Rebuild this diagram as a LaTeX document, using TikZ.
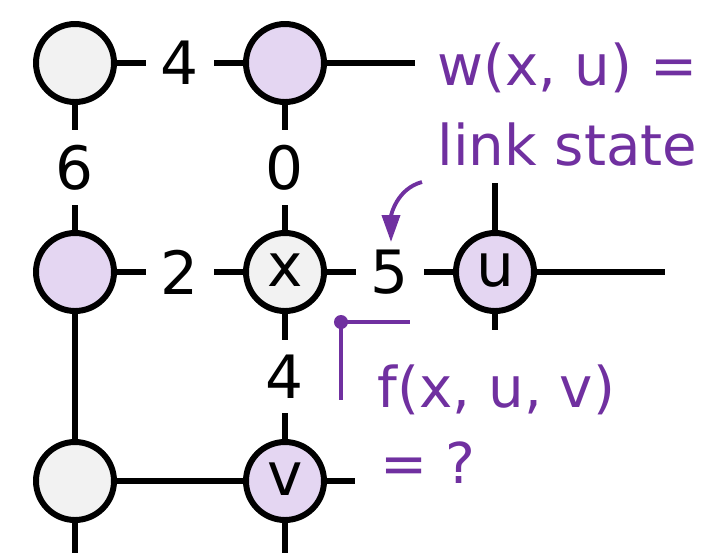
\documentclass[tikz,border=0pt]{standalone}
\usepackage{fontspec}
\setmainfont{DejaVu Sans}
\usetikzlibrary{arrows.meta}
\definecolor{notepurple}{HTML}{7030A0}
\definecolor{lavender}{HTML}{E4D6F2}
\definecolor{lightgrey}{HTML}{F2F2F2}

\begin{document}
\begin{tikzpicture}[
  every node/.style={font=\fontsize{17}{20}\selectfont},
  router/.style={circle, draw=black, line width=1.7pt, minimum size=0.78cm,
    inner sep=0pt, text height=1.5ex, text depth=0pt},
  link/.style={line width=1.7pt},
  cost/.style={fill=white, inner sep=0.15cm},
  note/.style={text=notepurple, anchor=base west, inner sep=0pt,
    font=\fontsize{16}{19}\selectfont},
  notearrow/.style={draw=notepurple, line width=1.1pt,
    -{Triangle[length=0.27cm, width=0.18cm]}}
]
\useasboundingbox (0,0) rectangle (7.03,-5.53);

% routers
\node[router, fill=lightgrey] (a) at (0.75,-0.63) {};
\node[router, fill=lavender]  (b) at (2.85,-0.63) {};
\node[router, fill=lavender]  (c) at (0.75,-2.72) {};
\node[router, fill=lightgrey] (x) at (2.85,-2.72) {x};
\node[router, fill=lavender]  (u) at (4.95,-2.72) {u};
\node[router, fill=lightgrey] (d) at (0.75,-4.81) {};
\node[router, fill=lavender]  (v) at (2.85,-4.81) {v};

% loose ends
\coordinate (bE) at (4.15,-0.63);
\coordinate (uN) at (4.95,-1.83);
\coordinate (uS) at (4.95,-3.30);
\coordinate (uE) at (6.65,-2.72);
\coordinate (dS) at (0.75,-5.53);
\coordinate (vS) at (2.85,-5.53);
\coordinate (vE) at (3.55,-4.81);

% links with costs
\draw[link] (a) -- node[cost] {4} (b);
\draw[link] (a) -- node[cost] {6} (c);
\draw[link] (b) -- node[cost] {0} (x);
\draw[link] (c) -- node[cost] {2} (x);
\draw[link] (x) -- node[cost] (five) {5} (u);
\draw[link] (x) -- node[cost] {4} (v);
\draw[link] (c) -- (d);
\draw[link] (d) -- (v);
\draw[link] (b) -- (bE);
\draw[link] (u) -- (uN);
\draw[link] (u) -- (uS);
\draw[link] (u) -- (uE);
\draw[link] (d) -- (dS);
\draw[link] (v) -- (vS);
\draw[link] (v) -- (vE);

% notes
\node[note] (wlabel) at (4.37,-0.85) {w(x, u) =};
\node[note] (linklabel) at (4.37,-1.65) {link state};
\node[note] (flabel) at (3.77,-4.07) {f(x, u, v)};
\node[note] (qlabel) at (3.80,-4.83) {= ?};

\coordinate (arrowtail) at (4.22,-1.82);
\coordinate (arrowtip) at (3.91,-2.42);
\draw[notearrow] (arrowtail) to[out=195, in=90] (arrowtip);

\coordinate (dot) at (3.41,-3.22);
\coordinate (hookE) at (4.10,-3.22);
\coordinate (hookS) at (3.41,-4.00);
\draw[notepurple, line width=1.3pt] (hookE) -- (dot) -- (hookS);
\fill[notepurple] (dot) circle (0.07);

\end{tikzpicture}
\end{document}
